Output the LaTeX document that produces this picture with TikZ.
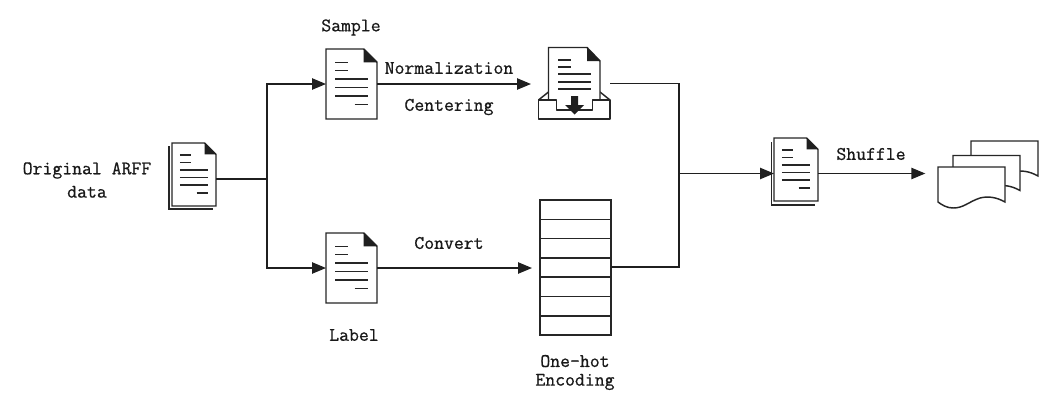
\documentclass[tikz,border=0pt]{standalone}
\usepackage{fontspec}
\setmonofont{Latin Modern Mono}[RawFeature={embolden=0.7}]
\usetikzlibrary{arrows.meta}
\tikzset{
  x=0.75pt,y=-0.75pt,
  line/.style={draw=black!88,line width=1.05pt,line join=miter},
  conn/.style={line},
  arr/.style={line,-{Triangle[length=10.5pt,width=8.5pt]}},
  ink/.style={draw=black!85,line width=1.1pt},
  hold/.style={inner sep=0pt,outer sep=0pt,minimum width=#1*0.75pt},
  lab/.style={font=\fontsize{14.4}{18}\selectfont\ttfamily,align=center,inner sep=0pt,text=black!90},
  pics/docicon/.style args={#1/#2}{code={
    \pgfmathsetmacro{\W}{#1/2}\pgfmathsetmacro{\H}{#2/2}
    \pgfmathsetmacro{\F}{#1*0.26}
    \draw[ink,fill=white] (-\W,-\H) -- (\W-\F,-\H) -- (\W,-\H+\F) -- (\W,\H) -- (-\W,\H) -- cycle;
    \fill[black!88] (\W-\F,-\H) -- (\W,-\H+\F) -- (\W-\F,-\H+\F) -- cycle;
    \foreach \a/\b/\yy in {0.18/0.43/0.19,0.18/0.43/0.31,0.18/0.82/0.43,0.18/0.82/0.55,0.18/0.82/0.67,0.56/0.82/0.79}
      \draw[ink] (-\W+#1*\a,-\H+#2*\yy) -- (-\W+#1*\b,-\H+#2*\yy);
  }},
  pics/pagelayer/.style={code={
    \draw[ink,fill=white] (0,35) -- (0,0) -- (67,0) -- (67,35) .. controls (58,30) and (50,29) .. (42,31)
      .. controls (30,35) and (26,41) .. (15,41) .. controls (9,41) and (4,38) .. (0,35) -- cycle;
  }},
}
\begin{document}
\begin{tikzpicture}
\useasboundingbox (0,0) rectangle (1058,404);

% icon nodes (hold the geometry the connectors attach to)
\node[hold=44,minimum height=47.25pt] (orig) at (194,174.5) {};
\node[hold=51,minimum height=52.5pt] (sample) at (351.5,84) {};
\node[hold=51,minimum height=52.5pt] (labeldoc) at (351.5,268) {};
\node[hold=71,minimum height=52.5pt] (tray) at (574.5,84) {};
\node[hold=71,minimum height=101.25pt] (enc) at (575.5,267.5) {};
\node[hold=44,minimum height=47.25pt] (merged) at (796,169.5) {};
\node[hold=100,minimum height=46pt] (pages) at (988,173) {};

% stacked original document
\draw[ink] (169,146) -- (169,209) -- (212.5,209);
\pic at (194,174.5) {docicon=44/63};
% sample and label
\pic at (351.5,84) {docicon=51/70};
\pic at (351.5,268) {docicon=51/70};
% merged document
\draw[ink] (771.5,142) -- (771.5,205) -- (815,205);
\pic at (796,169.5) {docicon=44/63};

% tray with document
\draw[ink] (538.5,100) -- (548.5,92);
\draw[ink] (610,100) -- (600,92);
\draw[ink,fill=white] (548.5,100) -- (548.5,47.5) -- (587,47.5) -- (600,61) -- (600,100);
\fill[black!88] (587,47.5) -- (600,61) -- (587,61) -- cycle;
\foreach \a/\b/\yy in {558/571/60,558/571/67,558/591/74,558/591/82,558/591/89}
  \draw[ink] (\a,\yy) -- (\b,\yy);
\draw[ink,fill=white,line join=round] (538.5,100) -- (556.7,100) -- (556.7,110) -- (592.7,110) -- (592.7,100) -- (610,100) -- (610,119) -- (538.5,119) -- cycle;
\fill[black!88] (571,96) -- (578,96) -- (578,105) -- (584,105) -- (574.5,114.5) -- (565,105) -- (571,105) -- cycle;

% one-hot stack
\draw[ink] (540,200) rectangle (611,335);
\foreach \k in {1,...,6} \draw[ink] (540,200+19.3*\k) -- (611,200+19.3*\k);

% page stack
\pic at (971,141) {pagelayer};
\pic at (953,155.5) {pagelayer};
\pic at (938,167) {pagelayer};

% junctions
\coordinate (split) at (267,179);
\coordinate (joinTop) at (679,83.5);
\coordinate (joinMid) at (679,173.5);
\coordinate (joinBot) at (679,267);

% connectors
\draw[conn] (orig.east |- split) -- (split);
\draw[arr] (split) |- (sample.west);
\draw[arr] (split) |- (labeldoc.west);
\draw[arr,shorten >=6pt] (sample.east) -- (tray.west);
\draw[arr,shorten >=6pt] (labeldoc.east) -- (enc.west |- labeldoc.east);
\draw[conn] (tray.east) ++(0,-0.5) -- (joinTop) -- (joinBot) -- (enc.east |- joinBot);
\draw[arr] (joinMid) -- (merged.west |- joinMid);
\draw[arr,shorten >=9.5pt] (merged.east |- joinMid) -- (pages.west |- joinMid);

% labels
\node[lab] (tOrig) at (87,180) {Original ARFF\\[-0.5pt]data};
\node[lab] (tSample) at (351,27.5) {Sample};
\node[lab] (tNorm) at (449,68) {Normalization};
\node[lab] (tCenter) at (449,107) {Centering};
\node[lab] (tConvert) at (449,243) {Convert};
\node[lab] (tLabel) at (354,335) {Label};
\node[lab] (tEnc) at (575,372.5) {One-hot\\[-4pt]Encoding};
\node[lab] (tShuffle) at (871,154) {Shuffle};
\end{tikzpicture}
\end{document}
